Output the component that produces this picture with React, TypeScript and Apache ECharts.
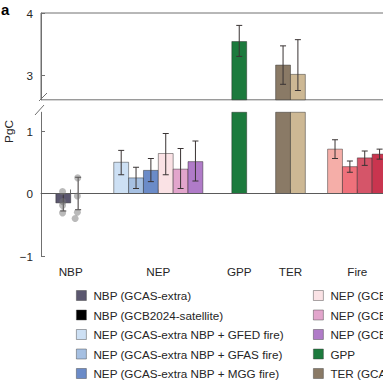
import React, { useEffect, useRef } from "react";
import * as echarts from "echarts";

const FONT = '"Liberation Sans", Arial, Helvetica, sans-serif';

// groups on the x axis (positions in bar-width units)
const groupNames = ["NBP", "NEP", "GPP", "TER", "Fire"];
const groupCenters = [2, 7.9, 13.35, 16.8, 21.3];
const groupSizes = [2, 6, 1, 2, 4];

// bars
const barNames = [
  "NBP (GCAS-extra)",
  "NBP (GCB2024-satellite)",
  "NEP (GCAS-extra NBP + GFED fire)",
  "NEP (GCAS-extra NBP + GFAS fire)",
  "NEP (GCAS-extra NBP + MGG fire)",
  "NEP (GCB2024-satellite NBP + GFED fire)",
  "NEP (GCB2024-satellite NBP + GFAS fire)",
  "NEP (GCB2024-satellite NBP + MGG fire)",
  "GPP",
  "TER (GCAS-extra)",
  "TER (GCB2024-satellite)",
  "Fire (GFED)",
  "Fire (GFAS)",
  "Fire (MGG)",
  "Fire (GCAS-extra)",
];
const barGroup = [0, 0, 1, 1, 1, 1, 1, 1, 2, 3, 3, 4, 4, 4, 4];
const barSlot = [0, 1, 0, 1, 2, 3, 4, 5, 0, 0, 1, 0, 1, 2, 3];
const barValues = [-0.15, 0.0, 0.5, 0.25, 0.37, 0.64, 0.39, 0.51, 3.54, 3.16, 3.01, 0.71, 0.43, 0.57, 0.63];
const errLow = [-0.28, -0.26, 0.3, 0.08, 0.19, 0.3, 0.08, 0.2, 3.3, 2.85, 2.75, 0.56, 0.34, 0.45, 0.55];
const errHigh = [0.0, 0.26, 0.69, 0.42, 0.56, 0.96, 0.72, 0.84, 3.8, 3.47, 3.57, 0.86, 0.52, 0.68, 0.71];
const barColors = [
  "#5b576f",
  "#000000",
  "#cde0f4",
  "#a6c0e2",
  "#6b8bc8",
  "#fae2e5",
  "#e2a5cc",
  "#b07bc8",
  "#1c7a3d",
  "#8a7a66",
  "#cdb894",
  "#f5aea8",
  "#ef717b",
  "#d55569",
  "#c9354f",
];

// individual NBP estimates (grey dots)
const dotX = [1.45, 1.47, 1.45, 1.45, 2.47, 2.45, 2.45, 2.3];
const dotY = [0.03, -0.13, -0.19, -0.31, 0.25, -0.04, -0.3, -0.4];

// axes
const topTicks = [3, 4];
const bottomTicks = [-1, 0, 1];
const TOP_MIN = 2.6;
const TOP_MAX = 4;
const BOT_MIN = -1;
const BOT_MAX = 1.3;
const X_MAX = 25;

const legendCol1 = barNames.slice(0, 5);
const legendCol2 = barNames.slice(5, 10);

const UNIT = 14.85;
const AXIS_COLOR = "#707070";
const TEXT_COLOR = "#262626";
const ERR_COLOR = "#3a3434";
const FS = 11.7;

function makeBar(i: number, gi: number) {
  const g = barGroup[i];
  return {
    type: "custom",
    name: barNames[i],
    xAxisIndex: gi,
    yAxisIndex: gi,
    itemStyle: { color: barColors[i] },
    encode: { x: 0, y: 1 },
    data: [[groupCenters[g], barValues[i], errLow[i], errHigh[i], barSlot[i], groupSizes[g]]],
    renderItem: (params: any, api: any) => {
      const cs = params.coordSys;
      const xc = api.value(0);
      const v = api.value(1);
      const lo = api.value(2);
      const hi = api.value(3);
      const slot = api.value(4);
      const n = api.value(5);
      const unit = api.size([1, 0])[0];
      const base = api.coord([xc, 0]);
      const top = api.coord([xc, v]);
      const left = base[0] + (slot - n / 2) * unit;
      const children: any[] = [];
      const box = { x: cs.x, y: cs.y, width: cs.width, height: cs.height };
      const rect = echarts.graphic.clipRectByRect(
        { x: left, y: Math.min(base[1], top[1]), width: unit, height: Math.abs(base[1] - top[1]) },
        box
      );
      if (rect && rect.height > 0.01) {
        children.push({
          type: "rect",
          shape: rect,
          style: { fill: barColors[i], stroke: "rgba(30,30,30,0.55)", lineWidth: 0.8 },
        });
      }
      const cx = left + unit / 2;
      const yl = api.coord([xc, lo])[1];
      const yh = api.coord([xc, hi])[1];
      const ymin = cs.y;
      const ymax = cs.y + cs.height;
      const a = Math.max(Math.min(yl, yh), ymin);
      const b = Math.min(Math.max(yl, yh), ymax);
      const es = { stroke: ERR_COLOR, lineWidth: 1 };
      if (b > a) {
        children.push({ type: "line", shape: { x1: cx, y1: a, x2: cx, y2: b }, style: es });
        [yl, yh].forEach((y) => {
          if (y >= ymin - 0.5 && y <= ymax + 0.5) {
            children.push({ type: "line", shape: { x1: cx - 3, y1: y, x2: cx + 3, y2: y }, style: es });
          }
        });
      }
      return { type: "group", children };
    },
  };
}

export default function App() {
  const ref = useRef<HTMLDivElement>(null);
  useEffect(() => {
    document.body.style.margin = "0";
    if (!ref.current) return;
    const chart = echarts.init(ref.current, undefined, { renderer: "svg" });
    const gridWidth = X_MAX * UNIT;
    const series: any[] = [];
    barNames.forEach((_, i) => series.push(makeBar(i, 1)));
    barNames.forEach((_, i) => {
      if (barValues[i] > TOP_MIN) series.push(makeBar(i, 0));
    });
    series.push({
      type: "line",
      xAxisIndex: 1,
      yAxisIndex: 1,
      data: [
        [0, 0],
        [X_MAX, 0],
      ],
      symbol: "none",
      silent: true,
      lineStyle: { color: "#5a5a5a", width: 1 },
      z: 3,
    });
    series.push({
      type: "scatter",
      xAxisIndex: 1,
      yAxisIndex: 1,
      data: dotX.map((x, k) => [x, dotY[k]]),
      symbolSize: 7,
      itemStyle: { color: "rgba(115,115,115,0.62)" },
      z: 4,
    });

    const legendBase = {
      orient: "vertical",
      itemWidth: 10,
      itemHeight: 10,
      itemGap: 5.5,
      padding: 0,
      icon: "rect",
      selectedMode: false,
      itemStyle: { borderColor: "rgba(60,60,60,0.55)", borderWidth: 0.8 },
      textStyle: { fontFamily: FONT, fontSize: FS, color: TEXT_COLOR, lineHeight: 14, padding: [0, 0, 0, 2] },
    };

    const yLabelFmt = (v: number) => String(v).replace("-", "\u2212");

    chart.setOption({
      animation: false,
      textStyle: { fontFamily: FONT },
      grid: [
        {
          left: 41,
          top: 13,
          width: gridWidth,
          height: 99.8 - 13,
          show: true,
          borderColor: AXIS_COLOR,
          borderWidth: 1,
          outerBoundsMode: "none",
        },
        {
          left: 41,
          top: 112.25,
          width: gridWidth,
          height: 256 - 112.25,
          outerBoundsMode: "none",
        },
      ],
      xAxis: [
        { gridIndex: 0, type: "value", min: 0, max: X_MAX, show: false },
        {
          gridIndex: 1,
          type: "value",
          min: 0,
          max: X_MAX,
          axisLine: { show: true, lineStyle: { color: AXIS_COLOR, width: 1 } },
          axisTick: { show: true, inside: true, length: 4, customValues: groupCenters, lineStyle: { color: AXIS_COLOR } },
          axisLabel: {
            customValues: groupCenters,
            formatter: (v: number) => {
              const k = groupCenters.findIndex((c) => Math.abs(c - v) < 1e-6);
              return k >= 0 ? groupNames[k] : "";
            },
            margin: 9,
            color: TEXT_COLOR,
            fontSize: FS,
            fontFamily: FONT,
          },
          splitLine: { show: false },
        },
      ],
      yAxis: [
        {
          gridIndex: 0,
          type: "value",
          min: TOP_MIN,
          max: TOP_MAX,
          axisLine: { show: true, lineStyle: { color: AXIS_COLOR, width: 1 } },
          axisTick: { show: true, inside: true, length: 4, customValues: topTicks, lineStyle: { color: AXIS_COLOR } },
          axisLabel: { customValues: topTicks, margin: 8, color: TEXT_COLOR, fontSize: FS, fontFamily: FONT, formatter: yLabelFmt },
          splitLine: { show: false },
        },
        {
          gridIndex: 1,
          type: "value",
          min: BOT_MIN,
          max: BOT_MAX,
          axisLine: { show: true, onZero: false, lineStyle: { color: AXIS_COLOR, width: 1 } },
          axisTick: { show: true, inside: true, length: 4, customValues: bottomTicks, lineStyle: { color: AXIS_COLOR } },
          axisLabel: { customValues: bottomTicks, margin: 8, color: TEXT_COLOR, fontSize: FS, fontFamily: FONT, formatter: yLabelFmt },
          splitLine: { show: false },
        },
      ],
      legend: [
        { ...legendBase, data: legendCol1, left: 76, top: 288.5 },
        { ...legendBase, data: legendCol2, left: 313, top: 288.5 },
      ],
      graphic: [
        {
          type: "text",
          x: 1,
          y: 9.5,
          style: { text: "a", fontFamily: FONT, fontSize: 15, fontWeight: "bold", fill: "#000", verticalAlign: "middle" },
        },
        {
          type: "text",
          x: 8,
          y: 131.5,
          rotation: Math.PI / 2,
          style: { text: "PgC", fontFamily: FONT, fontSize: FS, fill: TEXT_COLOR, align: "center", verticalAlign: "middle" },
        },
        { type: "line", shape: { x1: 39, y1: 101, x2: 47, y2: 93 }, style: { stroke: AXIS_COLOR, lineWidth: 1 } },
        { type: "line", shape: { x1: 35, y1: 115, x2: 44, y2: 105 }, style: { stroke: AXIS_COLOR, lineWidth: 1 } },
      ],
      series,
    });
    return () => chart.dispose();
  }, []);
  return <div ref={ref} style={{ width: 383, height: 383 }} />;
}
